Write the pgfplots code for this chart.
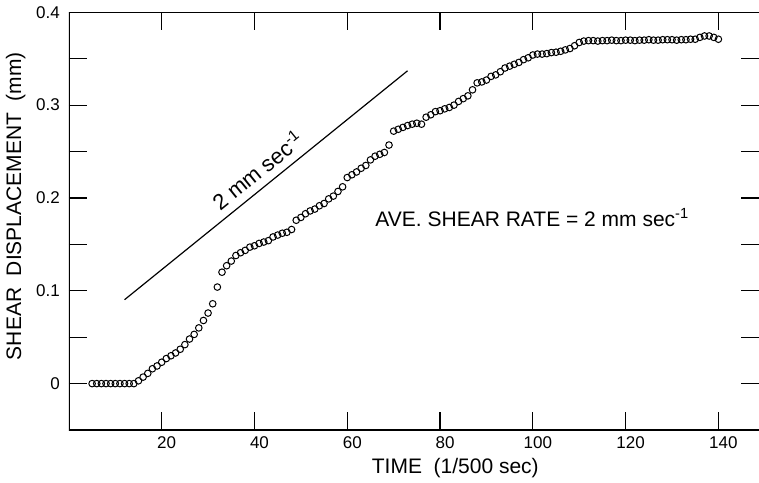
\documentclass[border=0pt]{standalone}
\usepackage{pgfplots}
\pgfplotsset{compat=1.18}
\usepackage{fontspec}
\setmainfont{Liberation Sans}
\begin{document}
\begin{tikzpicture}
\begin{axis}[
  scale only axis, width=345pt, height=208.85pt,
  xmin=0, xmax=148.73, ymin=-0.05, ymax=0.4,
  axis line style={draw=none},
  tick align=inside,
  xtick={20,40,...,140},
  xtick pos=both,
  ytick={0,0.1,0.2,0.3,0.4},
  yticklabels={0,0.1,0.2,0.3,0.4},
  minor ytick={0.05,0.15,0.25,0.35},
  ytick pos=both,
  major tick length=9pt, minor tick length=9pt,
  every tick/.style={black, line width=0.6pt},
  /pgf/number format/assume math mode=true,
  ticklabel style={font=\fontsize{8.5}{10}\selectfont},
  xticklabel style={xshift=2.5pt},
  yticklabel style={xshift=-1pt},
  xlabel={TIME\ \ (1/500 sec)},
  ylabel={SHEAR\ \ DISPLACEMENT\ \ (mm)},
  label style={font=\fontsize{10.5}{12}\selectfont},
  xlabel style={at={(axis description cs:0.56,-0.09)}, anchor=center},
  ylabel style={at={(axis description cs:-0.077,0.536)}, anchor=center},
]
\draw[line width=0.8pt] (rel axis cs:1,0) -- (rel axis cs:0,0) -- (rel axis cs:0,1) -- (rel axis cs:1,1);
\addplot[only marks, mark=o, mark size=1.65pt, mark options={line width=0.5pt, black}] coordinates {
(5,0) (6,0) (7,0) (8,0) (9,0) (10,0) (11,0) (12,0) (13,0) (14,0)
(15,0.003) (16,0.007) (17,0.011) (18,0.016) (19,0.019) (20,0.023)
(21,0.027) (22,0.030) (23,0.033) (24,0.037) (25,0.042) (26,0.048)
(27,0.053) (28,0.060) (29,0.068) (30,0.076) (31,0.086) (32,0.104)
(33,0.120) (34,0.127) (35,0.132) (36,0.138) (37,0.141) (38,0.1435)
(39,0.147) (40,0.1485) (41,0.151) (42,0.1525) (43,0.154) (44,0.158)
(45,0.160) (46,0.162) (47,0.163) (48,0.166) (49,0.176) (50,0.179)
(51,0.183) (52,0.186) (53,0.188) (54,0.1916) (55,0.194) (56,0.199)
(57,0.202) (58,0.207) (59,0.212) (60,0.222) (61,0.225) (62,0.228)
(63,0.232) (64,0.235) (65,0.241) (66,0.245) (67,0.247) (68,0.249)
(69,0.257) (70,0.272) (71,0.274) (72,0.276) (73,0.278) (74,0.2795)
(75,0.2805) (76,0.2795) (77,0.287) (78,0.2896) (79,0.293) (80,0.294)
(81,0.296) (82,0.2975) (83,0.300) (84,0.304) (85,0.307) (86,0.310)
(87,0.3165) (88,0.324) (89,0.325) (90,0.327) (91,0.331) (92,0.3326)
(93,0.336) (94,0.340) (95,0.342) (96,0.344) (97,0.346) (98,0.349)
(99,0.351) (100,0.354) (101,0.355) (102,0.355) (103,0.3555) (104,0.3566)
(105,0.357) (106,0.358) (107,0.3595) (108,0.361) (109,0.364) (110,0.3675)
(111,0.369) (112,0.3695) (113,0.3695) (114,0.3690) (115,0.3695) (116,0.3695)
(117,0.3700) (118,0.3695) (119,0.3695) (120,0.3700) (121,0.3700) (122,0.3695)
(123,0.3700) (124,0.3700) (125,0.3705) (126,0.3700) (127,0.3700) (128,0.3705)
(129,0.3705) (130,0.3705) (131,0.3700) (132,0.3705) (133,0.3705) (134,0.3710)
(135,0.3710) (136,0.3730) (137,0.3745) (138,0.3745) (139,0.3730) (140,0.3710)
};
\addplot[black, line width=0.6pt] coordinates {(12,0.0904) (73,0.337)};
\node[rotate=39, font=\fontsize{11}{13}\selectfont] at (axis cs:40.6,0.2304) {2 mm sec\textsuperscript{-1}};
\node[anchor=base west, inner sep=0pt, font=\fontsize{10.5}{12}\selectfont] at (axis cs:66,0.1693) {AVE. SHEAR RATE = 2 mm sec\textsuperscript{-1}};
\end{axis}
\pgfresetboundingbox
\path[use as bounding box] (-34.45pt,-26pt) rectangle (345.05pt,215pt);
\end{tikzpicture}
\end{document}
